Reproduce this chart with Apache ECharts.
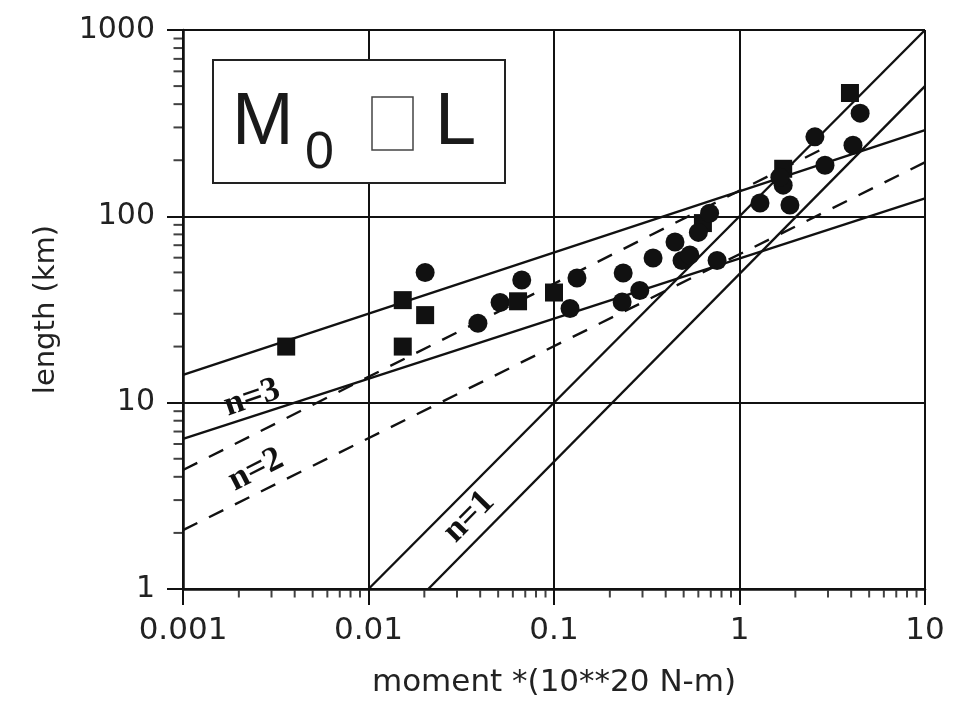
<!DOCTYPE html>
<html>
<head>
<meta charset="utf-8">
<script src="https://cdn.jsdelivr.net/npm/echarts@6/dist/echarts.min.js"></script>
<style>
  html, body { margin: 0; padding: 0; background: #fff; }
  #chart { width: 965px; height: 709px; }
</style>
</head>
<body>
<div id="chart"></div>
<script>
  // data: moment (1e20 N-m) vs rupture length (km)
  const squares = [
    [0.0036, 20], [0.0153, 35.5], [0.0202, 29.5], [0.0153, 20],
    [0.064, 35], [0.1, 39], [0.635, 92], [1.72, 180], [3.94, 459]
  ];
  const circles = [
    [0.0202, 50], [0.0389, 26.7], [0.0512, 34.5], [0.067, 45.5],
    [0.133, 46.7], [0.122, 32], [0.236, 49.7], [0.233, 34.7],
    [0.29, 40], [0.342, 59.7], [0.449, 72.8], [0.49, 58], [0.54, 62],
    [0.6, 82], [0.69, 104], [0.757, 58], [1.29, 118], [1.87, 115],
    [1.72, 147], [1.65, 162], [2.55, 267], [2.89, 188], [4.09, 241],
    [4.47, 358]
  ];

  // scaling lines (end points)
  const n3Upper = [[0.001, 14.1], [10, 290]];
  const n3Lower = [[0.001, 6.4], [10, 125]];
  const n2Upper = [[0.001, 4.35], [3, 238]];
  const n2Lower = [[0.001, 2.07], [10, 195]];
  const n1Upper = [[0.01, 1], [10, 1000]];
  const n1Lower = [[0.021, 1], [10, 500]];

  // minor tick positions on log axes
  const xMinorTicks = [
    0.002, 0.003, 0.004, 0.005, 0.006, 0.007, 0.008, 0.009,
    0.02, 0.03, 0.04, 0.05, 0.06, 0.07, 0.08, 0.09,
    0.2, 0.3, 0.4, 0.5, 0.6, 0.7, 0.8, 0.9,
    2, 3, 4, 5, 6, 7, 8, 9
  ];
  const yMinorTicks = [
    2, 3, 4, 5, 6, 7, 8, 9,
    20, 30, 40, 50, 60, 70, 80, 90,
    200, 300, 400, 500, 600, 700, 800, 900
  ];

  const ink = "#111";
  const chart = echarts.init(document.getElementById("chart"));

  function lineSeries(name, data, dashed) {
    return {
      name: name,
      type: "line",
      data: data,
      symbol: "none",
      silent: true,
      lineStyle: { color: ink, width: 2.4, type: dashed ? [16, 13] : "solid" },
      z: 3,
    };
  }

  const sansLabel = { color: "#222", fontFamily: "DejaVu Sans" };
  const plain = (v) => String(v);

  chart.setOption({
    animation: false,
    backgroundColor: "#fff",
    grid: { left: 183, right: 40, top: 30, bottom: 120 },
    xAxis: {
      type: "log",
      min: 0.001,
      max: 10,
      name: "moment *(10**20 N-m)",
      nameLocation: "middle",
      nameGap: 78,
      nameTextStyle: Object.assign({ fontSize: 31 }, sansLabel),
      axisLine: { show: true, lineStyle: { color: ink, width: 2.5 } },
      axisTick: { show: true, length: 16, lineStyle: { color: ink, width: 2 } },
      axisLabel: Object.assign({ fontSize: 31, margin: 26, formatter: plain }, sansLabel),
      splitLine: { show: true, lineStyle: { color: ink, width: 2 } },
    },
    yAxis: {
      type: "log",
      min: 1,
      max: 1000,
      name: "length (km)",
      nameLocation: "middle",
      nameGap: 122,
      nameRotate: 90,
      nameTextStyle: Object.assign({ fontSize: 29 }, sansLabel),
      axisLine: { show: true, lineStyle: { color: ink, width: 2.5 } },
      axisTick: { show: true, length: 16, lineStyle: { color: ink, width: 2 } },
      axisLabel: Object.assign({ fontSize: 30, margin: 28, formatter: plain }, sansLabel),
      splitLine: { show: true, lineStyle: { color: ink, width: 2 } },
    },
    series: [
      lineSeries("n=3 upper", n3Upper, false),
      lineSeries("n=3 lower", n3Lower, false),
      lineSeries("n=2 upper", n2Upper, true),
      lineSeries("n=2 lower", n2Lower, true),
      lineSeries("n=1 upper", n1Upper, false),
      lineSeries("n=1 lower", n1Lower, false),
      {
        name: "squares",
        type: "scatter",
        data: squares,
        symbol: "rect",
        symbolSize: 18,
        itemStyle: { color: ink, opacity: 1 },
        z: 5,
      },
      {
        name: "circles",
        type: "scatter",
        data: circles,
        symbol: "circle",
        symbolSize: 19,
        itemStyle: { color: ink, opacity: 1 },
        z: 5,
      },
      {
        name: "x minor ticks",
        type: "scatter",
        data: xMinorTicks.map((v) => [v, 1]),
        symbol: "rect",
        symbolSize: [2, 7],
        symbolOffset: [0, 5],
        clip: false,
        silent: true,
        itemStyle: { color: ink },
        z: 4,
      },
      {
        name: "y minor ticks",
        type: "scatter",
        data: yMinorTicks.map((v) => [0.001, v]),
        symbol: "rect",
        symbolSize: [9, 2],
        symbolOffset: [-5, 0],
        clip: false,
        silent: true,
        itemStyle: { color: ink },
        z: 4,
      },
    ],
    graphic: [
      // M0 [] L box
      {
        type: "rect",
        shape: { x: 213, y: 60, width: 292, height: 123 },
        style: { fill: "#fff", stroke: "#222", lineWidth: 2 },
        z: 100,
      },
      {
        type: "text",
        style: { text: "M", x: 232, y: 124, font: '74px "Liberation Sans"', fill: "#1a1a1a", verticalAlign: "middle" },
        z: 101,
      },
      {
        type: "text",
        style: { text: "0", x: 305, y: 154, font: '52px "Liberation Sans"', fill: "#1a1a1a", verticalAlign: "middle" },
        z: 101,
      },
      {
        type: "rect",
        shape: { x: 372, y: 97, width: 41, height: 53 },
        style: { fill: "#fff", stroke: "#444", lineWidth: 1.5 },
        z: 101,
      },
      {
        type: "text",
        style: { text: "L", x: 435, y: 124, font: '74px "Liberation Sans"', fill: "#1a1a1a", verticalAlign: "middle" },
        z: 101,
      },
      // n labels along the lines
      {
        type: "text",
        x: 252, y: 398, rotation: 0.33,
        style: { text: "n=3", font: 'bold 35px "Liberation Serif"', fill: ink, align: "center", verticalAlign: "middle" },
        z: 50,
      },
      {
        type: "text",
        x: 256, y: 470, rotation: 0.47,
        style: { text: "n=2", font: 'bold 35px "Liberation Serif"', fill: ink, align: "center", verticalAlign: "middle" },
        z: 50,
      },
      {
        type: "text",
        x: 469, y: 517, rotation: 0.79,
        style: { text: "n=1", font: 'bold 35px "Liberation Serif"', fill: ink, align: "center", verticalAlign: "middle" },
        z: 50,
      },
    ],
  });
</script>
</body>
</html>
